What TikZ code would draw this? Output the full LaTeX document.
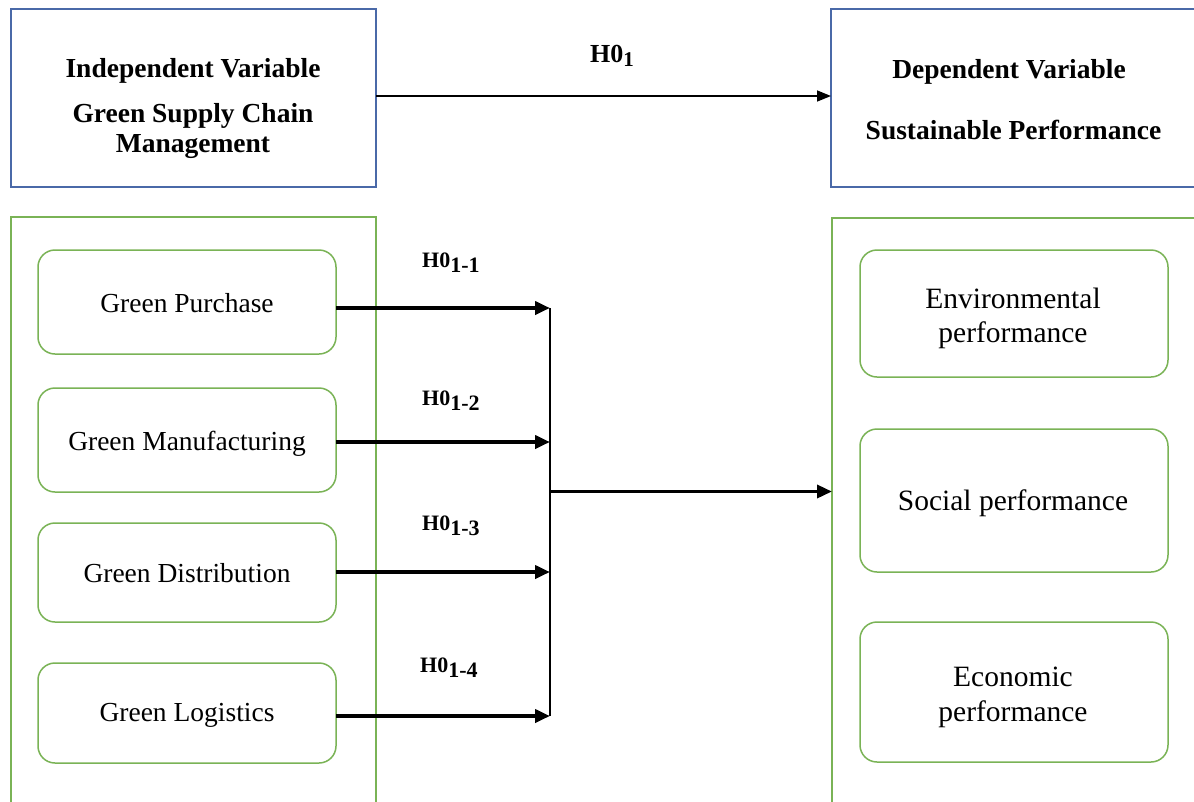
\documentclass[tikz,border=0pt]{standalone}
\usepackage{fontspec}
\setmainfont{Liberation Serif}
\usetikzlibrary{arrows.meta}
\definecolor{frameblue}{HTML}{4A69A8}
\definecolor{framegreen}{HTML}{7AB356}
\begin{document}
\begin{tikzpicture}[x=1pt,y=-1pt,
  bluebox/.style={draw=frameblue, line width=1.5pt, rectangle, inner sep=0pt, outer sep=0pt},
  outerbox/.style={draw=framegreen, line width=1.5pt, rectangle, inner sep=0pt, outer sep=0pt},
  roundbox/.style={draw=framegreen, line width=1.5pt, rectangle, rounded corners=17pt, inner sep=0pt, outer sep=0pt},
  boldtxt/.style={font=\fontsize{27.5}{33}\selectfont\bfseries, anchor=base, inner sep=0pt},
  lefttxt/.style={font=\fontsize{27.5}{33}\selectfont, anchor=base, inner sep=0pt},
  righttxt/.style={font=\fontsize{29.5}{35}\selectfont, anchor=base, inner sep=0pt},
  hlabel/.style={font=\fontsize{22}{26}\selectfont\bfseries, anchor=base west, inner sep=0pt},
  feed/.style={line width=3.8pt, -{Triangle[length=15pt,width=13pt]}},
  mainarrow/.style={line width=1.5pt, -{Triangle[length=14pt,width=11pt]}},
  bar/.style={line width=1.8pt}]
\clip (0,0) rectangle (1194,801);
\fill[white] (0,0) rectangle (1194,801);

% top boxes
\node[bluebox, minimum width=365pt, minimum height=178pt] (iv) at (193.5,98) {};
\node[bluebox, minimum width=365pt, minimum height=178pt] (dv) at (1013.5,98) {};
\node[boldtxt] (ivt1) at (193,77) {Independent Variable};
\node[boldtxt] (ivt2) at (193,122) {Green Supply Chain};
\node[boldtxt] (ivt3) at (193,152) {Management};
\node[boldtxt] (dvt1) at (1009,78) {Dependent Variable};
\node[boldtxt] (dvt2) at (1013.5,139) {Sustainable Performance};

% outer green boxes
\node[outerbox, minimum width=365pt, minimum height=613pt] (lout) at (193.5,523.5) {};
\node[outerbox, minimum width=365pt, minimum height=612pt] (rout) at (1014.5,524) {};

% left rounded boxes
\node[roundbox, minimum width=298pt, minimum height=104pt] (gp) at (187,302) {};
\node[roundbox, minimum width=298pt, minimum height=104pt] (gm) at (187,440) {};
\node[roundbox, minimum width=298pt, minimum height=99pt] (gd) at (187,572.5) {};
\node[roundbox, minimum width=298pt, minimum height=100pt] (gl) at (187,713) {};
\node[lefttxt] (gpt) at (187,312) {Green Purchase};
\node[lefttxt] (gmt) at (187,450) {Green Manufacturing};
\node[lefttxt] (gdt) at (187,582) {Green Distribution};
\node[lefttxt] (glt) at (187,721) {Green Logistics};

% right rounded boxes
\node[roundbox, minimum width=308pt, minimum height=127pt] (env) at (1014,313.5) {};
\node[roundbox, minimum width=308pt, minimum height=143pt] (soc) at (1014,500.5) {};
\node[roundbox, minimum width=308pt, minimum height=140pt] (eco) at (1014,692) {};
\node[righttxt] (envt1) at (1013,308) {Environmental};
\node[righttxt] (envt2) at (1013,342) {performance};
\node[righttxt] (soct) at (1013,510) {Social performance};
\node[righttxt] (ecot1) at (1013,686) {Economic};
\node[righttxt] (ecot2) at (1013,721) {performance};

% top arrow
\coordinate (topy) at (600,96);
\draw[mainarrow] (iv.east |- topy) -- (dv.west |- topy);
\node[font=\fontsize{26}{30}\selectfont\bfseries, anchor=base west, inner sep=0pt] (h0) at (590,62) {H0\raisebox{-4pt}{\fontsize{21}{25}\selectfont 1}};

% junction
\coordinate (j1) at (550,308);
\coordinate (j2) at (550,442);
\coordinate (j3) at (550,572);
\coordinate (j4) at (550,716);
\coordinate (jm) at (550,491.5);
\draw[bar] (j1) -- (j4);
\draw[feed] (gp.east |- j1) -- (j1);
\draw[feed] (gm.east |- j2) -- (j2);
\draw[feed] (gd.east |- j3) -- (j3);
\draw[feed] (gl.east |- j4) -- (j4);
\draw[line width=3.4pt, -{Triangle[length=15pt,width=13pt]}] (jm) -- (rout.west |- jm);

% hypothesis labels
\node[hlabel] (h11) at (422,267) {H0\raisebox{-5pt}{\fontsize{22}{26}\selectfont 1-1}};
\node[hlabel] (h12) at (422,405) {H0\raisebox{-5pt}{\fontsize{22}{26}\selectfont 1-2}};
\node[hlabel] (h13) at (422,530) {H0\raisebox{-5pt}{\fontsize{22}{26}\selectfont 1-3}};
\node[hlabel] (h14) at (420,672) {H0\raisebox{-5pt}{\fontsize{22}{26}\selectfont 1-4}};
\end{tikzpicture}
\end{document}
